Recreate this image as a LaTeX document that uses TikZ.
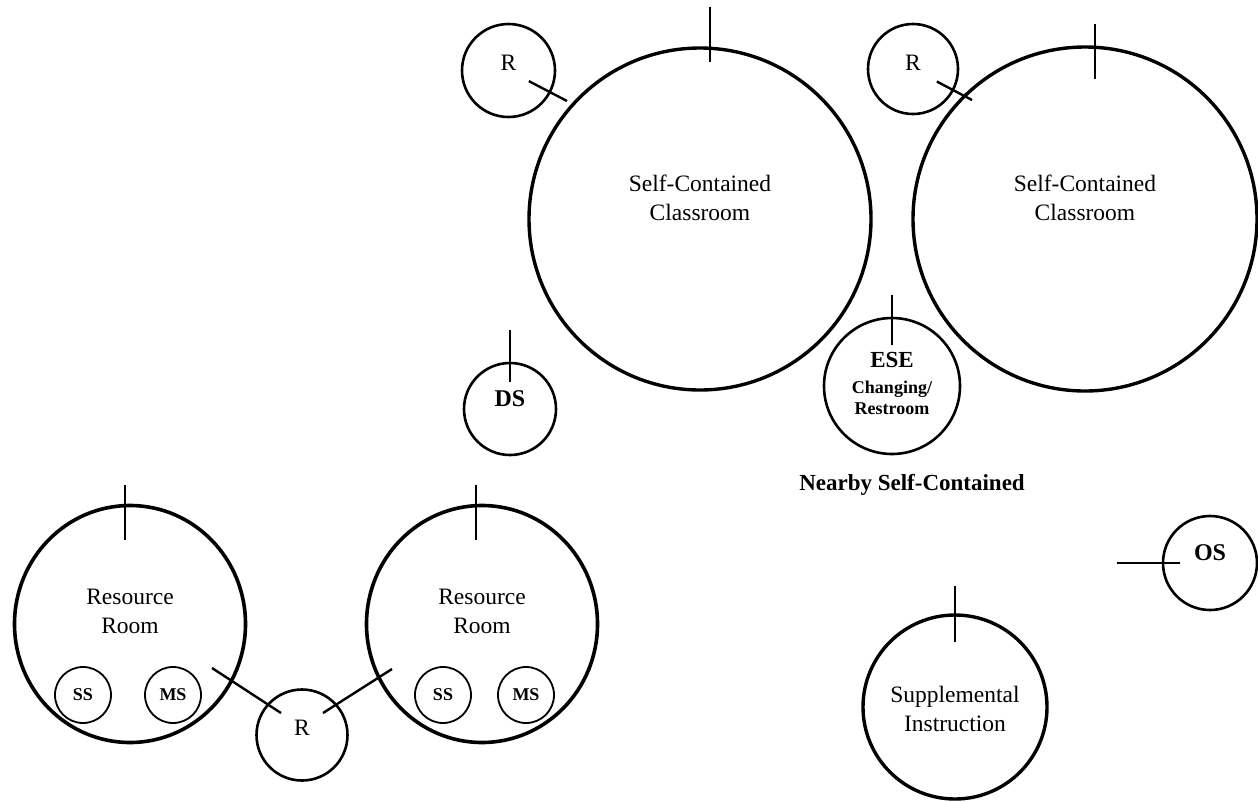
\documentclass[tikz,border=0pt]{standalone}
\usepackage{fontspec}
\setmainfont{Liberation Serif}
\usetikzlibrary{shapes.geometric}
\begin{document}
\begin{tikzpicture}[x=1pt,y=-1pt,
  room/.style={draw, circle, line width=3.4pt, inner sep=0pt, outer sep=0pt, minimum size=#1},
  spot/.style={draw, circle, line width=2.6pt, inner sep=0pt, outer sep=0pt, minimum size=#1},
  pod/.style={draw, ellipse, line width=3.6pt, inner sep=0pt, outer sep=0pt,
              minimum width=231pt, minimum height=237pt},
  sub/.style={draw, circle, line width=1.8pt, inner sep=0pt, outer sep=0pt, minimum size=56pt},
  tick/.style={line width=2.2pt},
  link/.style={line width=2.4pt},
  txt/.style={align=center, inner sep=0pt, font=\fontsize{23.5}{29}\selectfont},
  btxt/.style={align=center, inner sep=0pt, font=\fontsize{24}{29}\selectfont\bfseries},
  stxt/.style={align=center, inner sep=0pt, font=\fontsize{18}{21}\selectfont\bfseries},
]
\fill[white] (0,0) rectangle (1258,801);
\useasboundingbox (0,0) rectangle (1258,801);

% rooms and spaces
\node[room=342pt] (sc1) at (700,219) {};
\node[room=344pt] (sc2) at (1085,219) {};
\node[spot=93pt]  (r1)  at (508.5,70.5) {};
\node[spot=90pt]  (r2)  at (913,69) {};
\node[spot=92pt]  (ds)  at (510,409) {};
\node[spot=136pt] (ese) at (892,386) {};
\node[spot=94pt]  (os)  at (1210,563) {};
\node[room=184pt] (si)  at (955,707) {};
\node[pod] (rr1) at (130,624) {};
\node[pod] (rr2) at (482,624) {};
\node[spot=91pt]  (rb)  at (302,735) {};
\node[sub] (ss1) at (83,695) {};
\node[sub] (ms1) at (173,695) {};
\node[sub] (ss2) at (443,695) {};
\node[sub] (ms2) at (526,695) {};

% labels
\node[txt] at ([yshift=21pt]sc1.center) {Self-Contained\\Classroom};
\node[txt] at ([yshift=21pt]sc2.center) {Self-Contained\\Classroom};
\node[txt] at ([yshift=8pt]r1.center) {R};
\node[txt] at ([yshift=6pt]r2.center) {R};
\node[btxt] at ([yshift=10pt]ds.center) {DS};
\node[btxt] at ([yshift=10pt]os.center) {OS};
\node[btxt, font=\fontsize{23}{29}\selectfont\bfseries] at ([yshift=26pt]ese.center) {ESE};
\node[stxt] at ([yshift=-12pt]ese.center) {Changing/\\Restroom};
\node[txt] at ([yshift=-2pt]si.center) {Supplemental\\Instruction};
\node[txt] at ([yshift=13pt]rr1.center) {Resource\\Room};
\node[txt] at ([yshift=13pt]rr2.center) {Resource\\Room};
\node[txt] at ([yshift=7pt]rb.center) {R};
\node[stxt] at (ss1.center) {SS};
\node[stxt] at (ms1.center) {MS};
\node[stxt] at (ss2.center) {SS};
\node[stxt] at (ms2.center) {MS};
\node[btxt, font=\fontsize{23}{29}\selectfont\bfseries] (nb) at (912,485) {Nearby Self-Contained};

% entrance ticks
\draw[tick] ([xshift=10pt,yshift=41pt]sc1.north) -- ([xshift=10pt,yshift=-14pt]sc1.north);
\draw[tick] ([xshift=10pt,yshift=23pt]sc2.north) -- ([xshift=10pt,yshift=-32pt]sc2.north);
\draw[tick] ([yshift=33pt]ds.north) -- ([yshift=-19pt]ds.north);
\draw[tick] ([yshift=23pt]ese.north) -- ([yshift=-27pt]ese.north);
\draw[tick] ([yshift=29pt]si.north) -- ([yshift=-27pt]si.north);
\draw[tick] ([xshift=-5pt,yshift=21pt]rr1.north) -- ([xshift=-5pt,yshift=-34pt]rr1.north);
\draw[tick] ([xshift=-6pt,yshift=21pt]rr2.north) -- ([xshift=-6pt,yshift=-34pt]rr2.north);

% links between spaces
\coordinate (r1end) at (567,101);
\draw[link, shorten <=23pt] (r1.center) -- (r1end);
\coordinate (r2end) at (972,100);
\draw[link, shorten <=27pt] (r2.center) -- (r2end);
\coordinate (osend) at (1117,563);
\draw[link, shorten <=30pt] (os.center) -- (osend);
\coordinate (rbl) at (212,668);
\draw[link] ([shift={(-21pt,22pt)}]rb.center) -- (rbl);
\coordinate (rbr) at (392,669);
\draw[link] ([shift={(21pt,22pt)}]rb.center) -- (rbr);
\end{tikzpicture}
\end{document}
